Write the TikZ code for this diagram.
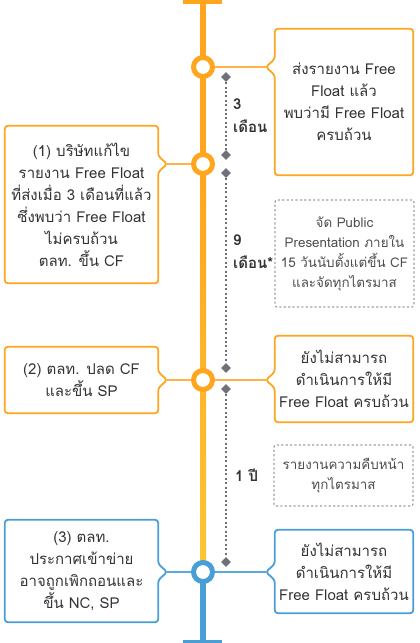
\documentclass[tikz,border=0pt]{standalone}
\usepackage{fontspec}
\setmainfont[Script=Thai]{Loma}
\usetikzlibrary{calc,shapes.geometric,shadows,backgrounds}
\definecolor{orA}{HTML}{FFA51E}
\definecolor{orL}{HTML}{FFB347}
\definecolor{yel}{HTML}{FDC537}
\definecolor{blu}{HTML}{4A9ED6}
\definecolor{bluL}{HTML}{5AA8DC}
\definecolor{txt}{HTML}{333333}
\definecolor{dgray}{HTML}{6E7178}
\definecolor{lgray}{HTML}{A0A0A0}
\definecolor{gtxt}{HTML}{4D4D4D}
\begin{document}
\begin{tikzpicture}[x=1pt,y=-1pt,
  boxtext/.style={rectangle, inner sep=0pt, align=center, text=txt, font=\fontsize{15}{22}\selectfont},
  notetext/.style={rectangle, inner sep=0pt, align=center, text=gtxt, font=\fontsize{13.4}{20}\selectfont},
  outline/.style={line width=1.8pt, fill=white, rounded corners=3pt},
  notebox/.style={draw=lgray, line width=1.2pt, dash pattern=on 2.2pt off 2.2pt, rounded corners=2pt},
  ring/.style={circle, minimum size=19pt, inner sep=0pt, line width=5pt, fill=white,
     drop shadow={shadow xshift=1.2pt, shadow yshift=-1.6pt, opacity=0.22}},
  gem/.style={diamond, fill=dgray, inner sep=0pt, minimum width=10pt, minimum height=10pt},
  dots/.style={dgray, line width=1.3pt, dash pattern=on 2pt off 2.4pt},
  lbl/.style={anchor=west, align=left, inner sep=0pt, text=txt, font=\fontsize{15}{23}\selectfont\bfseries},
  link/.style={line width=1.6pt}
]
\useasboundingbox (0,0) rectangle (420,643);

% circle positions
\coordinate (p1) at (203,67);
\coordinate (p2) at (203,164);
\coordinate (p3) at (203,380);
\coordinate (p4) at (203,572);

% boxes (text nodes)
\node[boxtext, minimum width=138pt, minimum height=146pt] (A) at (344,102)
  {ส่งรายงาน Free\\Float แล้ว\\พบว่ามี Free Float\\ครบถ้วน};
\node[boxtext, minimum width=153pt, minimum height=157pt] (B) at (81.5,204.5)
  {(1) บริษัทแก้ไข\\รายงาน Free Float\\ที่ส่งเมื่อ 3 เดือนที่แล้ว\\ซึ่งพบว่า Free Float\\ไม่ครบถ้วน\\ตลท. ขึ้น CF};
\node[boxtext, minimum width=153pt, minimum height=66pt] (D) at (81.5,380)
  {(2) ตลท. ปลด CF\\และขึ้น SP};
\node[boxtext, minimum width=138pt, minimum height=86pt] (E) at (344,379)
  {ยังไม่สามารถ\\ดำเนินการให้มี\\Free Float ครบถ้วน};
\node[boxtext, minimum width=153pt, minimum height=102pt] (G) at (81.5,571)
  {(3) ตลท.\\ประกาศเข้าข่าย\\อาจถูกเพิกถอนและ\\ขึ้น NC, SP};
\node[boxtext, minimum width=138pt, minimum height=83pt] (H) at (344,571.5)
  {ยังไม่สามารถ\\ดำเนินการให้มี\\Free Float ครบถ้วน};

% pointer tips
\coordinate (tA) at ($(A.west|-p1)+(-9,0)$);
\coordinate (tB) at ($(B.east|-p2)+(9,0)$);
\coordinate (tD) at ($(D.east|-p3)+(9,0)$);
\coordinate (tE) at ($(E.west|-p3)+(-9,0)$);
\coordinate (tG) at ($(G.east|-p4)+(9,0)$);
\coordinate (tH) at ($(H.west|-p4)+(-9,0)$);

\begin{scope}[on background layer]
% main line
\coordinate (top) at (203,0);
\coordinate (bot) at (203,641);
\fill[orA] (200,0) rectangle (206,170);
\shade[top color=orA, bottom color=yel] (200,170) rectangle (206,572);
\fill[orA] (183,0) rectangle (222,3.5);
\fill[blu] (200,572) rectangle (206,641);
\fill[blu] (183,639.5) rectangle (222,643);

% connectors
\draw[link, orL] (p1) -- (tA);
\draw[link, orL] (p2) -- (tB);
\draw[link, orL] (p3) -- (tD);
\draw[link, orL] (p3) -- (tE);
\draw[link, bluL] (p4) -- (tG);
\draw[link, bluL] (p4) -- (tH);

% outlines: right-side boxes (pointer on left)
\draw[outline, draw=orA] (tA) -- ($(A.west|-p1)+(0,-8)$) -- (A.north west) -- (A.north east)
  -- (A.south east) -- (A.south west) -- ($(A.west|-p1)+(0,8)$) -- cycle;
\draw[outline, draw=orA] (tE) -- ($(E.west|-p3)+(0,-8)$) -- (E.north west) -- (E.north east)
  -- (E.south east) -- (E.south west) -- ($(E.west|-p3)+(0,8)$) -- cycle;
\draw[outline, draw=blu] (tH) -- ($(H.west|-p4)+(0,-8)$) -- (H.north west) -- (H.north east)
  -- (H.south east) -- (H.south west) -- ($(H.west|-p4)+(0,8)$) -- cycle;
% left-side boxes (pointer on right)
\draw[outline, draw=orA] (tB) -- ($(B.east|-p2)+(0,8)$) -- (B.south east) -- (B.south west)
  -- (B.north west) -- (B.north east) -- ($(B.east|-p2)+(0,-8)$) -- cycle;
\draw[outline, draw=orA] (tD) -- ($(D.east|-p3)+(0,8)$) -- (D.south east) -- (D.south west)
  -- (D.north west) -- (D.north east) -- ($(D.east|-p3)+(0,-8)$) -- cycle;
\draw[outline, draw=blu] (tG) -- ($(G.east|-p4)+(0,8)$) -- (G.south east) -- (G.south west)
  -- (G.north west) -- (G.north east) -- ($(G.east|-p4)+(0,-8)$) -- cycle;
\end{scope}

% circles
\node[ring, draw=orA] (c1) at (p1) {};
\node[ring, draw=orA] (c2) at (p2) {};
\node[ring, draw=orA] (c3) at (p3) {};
\node[ring, draw=blu] (c4) at (p4) {};

% dashed note boxes
\node[notetext, notebox, minimum width=139pt, minimum height=107pt] (C) at (344.5,253.5)
  {จัด Public\\Presentation ภายใน\\15 วันนับตั้งแต่ขึ้น CF\\และจัดทุกไตรมาส};
\node[notetext, notebox, minimum width=139pt, minimum height=61pt] (F) at (343.5,475.5)
  {รายงานความคืบหน้า\\ทุกไตรมาส};

% diamonds and dotted spans
\node[gem] (d1) at (226,77) {};
\node[gem] (d2) at (226,155) {};
\node[gem] (d3) at (226,173) {};
\node[gem] (d4) at (226,368) {};
\node[gem] (d5) at (226,389) {};
\node[gem] (d6) at (226,562) {};
\draw[dots] (d1) -- (d2);
\draw[dots] (d3) -- (d4);
\draw[dots] (d5) -- (d6);

% span labels
\node[lbl] (l1) at (233,115.5) {3\\เดือน};
\node[lbl] (l2) at (233,251.5) {9\\เดือน*};
\node[lbl] (l3) at (235,475) {1 ปี};
\end{tikzpicture}
\end{document}
